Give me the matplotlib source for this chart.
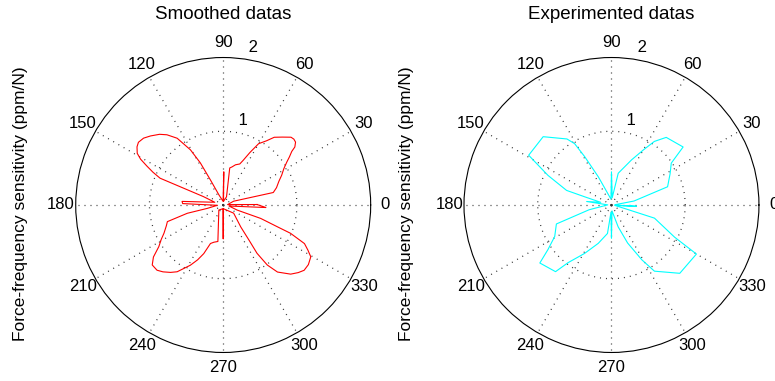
import numpy as np
import matplotlib
matplotlib.use("Agg")
import matplotlib.pyplot as plt

plt.rcParams['font.family'] = ['Liberation Sans', 'DejaVu Sans']

# smoothed curve, angle in degrees / radius (ppm/N)
smooth_deg = [0.8, 5, 20, 14, 18, 23, 27, 31, 34, 36, 38, 39, 41, 43, 45, 49, 53, 56,
              60, 63, 66, 68, 73, 77, 80, 68, 85, 89, 92, 113, 117, 118.5, 120.7,
              124.6, 128.7, 132, 136.5, 140, 143.5, 146, 149, 151, 153, 155, 157,
              157, 157, 162, 175, 178, 183, 192, 193, 196.6, 200, 205.5, 209, 212.9,
              216.7, 220.2, 224.6, 228, 232, 235.4, 241.4, 245, 248.2, 251.7, 256,
              261.7, 229, 268, 270, 272, 322, 308.7, 306.3, 305, 306.3, 309, 314.3,
              318, 321.1, 325, 329.4, 332, 334.6, 337.2, 338.1, 340.3, 340, 350,
              356.6, 0.8]
smooth_r = [0.46, 0.06, 0.15, 0.70, 0.76, 0.82, 0.89, 0.96, 1.04, 1.11, 1.18, 1.25,
            1.30, 1.31, 1.30, 1.22, 1.15, 1.05, 0.96, 0.80, 0.66, 0.60, 0.57, 0.53,
            0.51, 0.12, 0.05, 0.45, 0.05, 0.15, 0.38, 0.65, 0.87, 1.10, 1.22, 1.29,
            1.36, 1.41, 1.43, 1.41, 1.36, 1.28, 1.16, 1.05, 0.93, 0.58, 0.29, 0.12,
            0.56, 0.55, 0.08, 0.22, 0.50, 0.79, 0.82, 0.89, 0.96, 1.04, 1.18, 1.26,
            1.26, 1.22, 1.16, 1.10, 0.93, 0.82, 0.71, 0.55, 0.52, 0.50, 0.09, 0.05,
            0.46, 0.05, 0.18, 0.38, 0.59, 0.80, 1.01, 1.17, 1.31, 1.37, 1.41, 1.41,
            1.38, 1.30, 1.22, 0.99, 0.79, 0.54, 0.20, 0.08, 0.58, 0.46]

# experimental points
exp_deg = [0, 5, 10, 18, 28, 35, 39, 51, 56, 60, 66, 78, 84, 90, 95, 115, 119, 121,
           124, 135, 149, 155, 162, 163, 166, 172, 178, 192, 199, 209, 215, 219, 230,
           233, 241, 251, 262, 266, 270, 275, 287, 293, 299, 303, 315, 330, 333, 343,
           345, 352, 357, 360]
exp_r = [0.05, 0.05, 0.31, 0.80, 0.90, 0.99, 1.25, 1.18, 1.04, 0.86, 0.67, 0.44,
         0.10, 0.45, 0.08, 0.42, 0.75, 0.97, 1.08, 1.31, 1.31, 0.95, 0.64, 0.38,
         0.15, 0.34, 0.05, 0.31, 0.79, 0.88, 1.05, 1.25, 1.18, 0.98, 0.75, 0.55,
         0.39, 0.10, 0.45, 0.08, 0.31, 0.56, 0.85, 1.07, 1.31, 1.33, 0.96, 0.61,
         0.19, 0.05, 0.34, 0.05]

angle_ticks = list(range(0, 360, 30))
r_ticks = [1, 2]
titles = ['Smoothed datas', 'Experimented datas']
ylabel = 'Force-frequency sensitivity (ppm/N)'

fig = plt.figure(figsize=(7.75, 3.81), dpi=100)

panels = [
    ([0.0977, 0.0748, 0.3806, 0.7743], smooth_deg, smooth_r, '#ff0000', 21 / 775),
    ([0.5987, 0.0748, 0.3806, 0.7743], exp_deg, exp_r, '#00ffff', 406 / 775),
]

for (rect, deg, r, col, ylab_x), title in zip(panels, titles):
    ax = fig.add_axes(rect, projection='polar')
    ax.plot(np.deg2rad(deg), r, color=col, linewidth=0.8)
    ax.set_ylim(0, 2)
    ax.set_xticks(np.deg2rad(angle_ticks))
    ax.set_yticks([1])
    ax.set_xticklabels([])
    ax.set_yticklabels([])
    ax.grid(True, color='#333333', linewidth=0.9, linestyle=(0, (0.8, 4)))
    ax.spines['polar'].set_color('black')
    ax.spines['polar'].set_linewidth(0.8)

    # MATLAB-style labels
    for a in angle_ticks:
        ax.text(np.deg2rad(a), 2.2, str(a), ha='center', va='center', fontsize=12)
    for rt in r_ticks:
        ax.text(np.deg2rad(82), rt + 0.05, ' ' + str(rt), ha='left', va='bottom',
                fontsize=12)

    ax.text(0.5, 1.146, title, transform=ax.transAxes, ha='center', va='center',
            fontsize=13.5)
    fig.text(ylab_x, 0.4664, ylabel, rotation=90, ha='center', va='center',
             fontsize=12.5)

fig.savefig('out.png', dpi=100)
